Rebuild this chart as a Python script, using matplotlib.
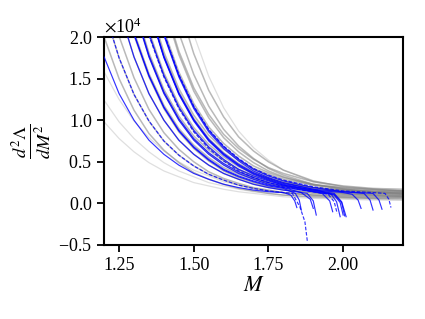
import numpy as np
import matplotlib.pyplot as plt

plt.rcParams['font.family'] = 'Liberation Serif'
plt.rcParams['mathtext.fontset'] = 'stix'

nan = np.nan

# mass grid (solar masses), values of d2Lambda/dM2 in units of 1e4
mass = [1.20, 1.25, 1.30, 1.35, 1.40, 1.45, 1.50, 1.55, 1.60, 1.65, 1.70, 1.75, 1.80, 1.90, 2.00, 2.10, 2.20]

# faint outliers of the gray family
gray_faint = [
    [0.98, 0.78, 0.62, 0.49, 0.39, 0.32, 0.25, 0.21, 0.17, 0.14, 0.12, 0.10, 0.08, 0.06, 0.05, 0.04, 0.04],
    [1.24, 0.98, 0.78, 0.62, 0.49, 0.39, 0.32, 0.25, 0.21, 0.17, 0.14, 0.12, 0.10, 0.07, 0.06, 0.05, 0.04],
    [1.58, 1.25, 0.99, 0.79, 0.63, 0.50, 0.40, 0.33, 0.26, 0.22, 0.18, 0.15, 0.13, 0.09, 0.07, 0.06, 0.05],
    [nan, nan, nan, nan, 3.63, 2.71, 2.03, 1.53, 1.15, 0.87, 0.67, 0.52, 0.40, 0.26, 0.18, 0.13, 0.11],
]

gray_curves = [
    [2.00, 1.50, 1.12, 0.84, 0.64, 0.49, 0.37, 0.29, 0.23, 0.18, 0.15, 0.12, 0.10, 0.08, 0.07, 0.06, 0.06],
    [2.33, 1.75, 1.31, 0.99, 0.75, 0.58, 0.45, 0.35, 0.28, 0.22, 0.18, 0.15, 0.13, 0.10, 0.09, 0.08, 0.08],
    [2.69, 2.01, 1.51, 1.13, 0.85, 0.65, 0.50, 0.38, 0.30, 0.24, 0.19, 0.16, 0.13, 0.10, 0.08, 0.07, 0.07],
    [3.14, 2.34, 1.76, 1.32, 1.00, 0.76, 0.59, 0.46, 0.36, 0.29, 0.23, 0.19, 0.16, 0.13, 0.11, 0.10, 0.09],
    [3.62, 2.70, 2.02, 1.52, 1.14, 0.86, 0.66, 0.51, 0.39, 0.31, 0.25, 0.20, 0.17, 0.12, 0.10, 0.09, 0.08],
    [3.66, 2.74, 2.06, 1.56, 1.18, 0.90, 0.70, 0.55, 0.43, 0.35, 0.29, 0.24, 0.21, 0.16, 0.14, 0.13, 0.12],
    [nan, 3.15, 2.35, 1.77, 1.33, 1.01, 0.77, 0.60, 0.47, 0.37, 0.30, 0.24, 0.20, 0.15, 0.12, 0.11, 0.10],
    [nan, 3.19, 2.39, 1.81, 1.37, 1.05, 0.81, 0.64, 0.51, 0.41, 0.34, 0.28, 0.24, 0.19, 0.16, 0.15, 0.14],
    [nan, 3.63, 2.71, 2.03, 1.53, 1.15, 0.87, 0.67, 0.52, 0.40, 0.32, 0.26, 0.21, 0.15, 0.12, 0.10, 0.09],
    [nan, 3.67, 2.75, 2.07, 1.57, 1.19, 0.91, 0.71, 0.56, 0.44, 0.36, 0.30, 0.25, 0.19, 0.16, 0.14, 0.13],
    [nan, nan, 3.16, 2.36, 1.78, 1.34, 1.02, 0.78, 0.61, 0.48, 0.38, 0.31, 0.25, 0.18, 0.15, 0.13, 0.11],
    [nan, nan, 3.20, 2.40, 1.82, 1.38, 1.06, 0.82, 0.65, 0.52, 0.42, 0.35, 0.29, 0.22, 0.19, 0.17, 0.15],
    [nan, nan, 3.64, 2.72, 2.04, 1.54, 1.16, 0.88, 0.68, 0.53, 0.41, 0.33, 0.27, 0.19, 0.14, 0.12, 0.11],
    [nan, nan, 3.68, 2.76, 2.08, 1.58, 1.20, 0.92, 0.72, 0.57, 0.45, 0.37, 0.31, 0.23, 0.18, 0.16, 0.15],
    [nan, nan, nan, 3.17, 2.37, 1.79, 1.35, 1.03, 0.79, 0.62, 0.49, 0.39, 0.32, 0.22, 0.17, 0.14, 0.13],
    [nan, nan, nan, 3.21, 2.41, 1.83, 1.39, 1.07, 0.83, 0.66, 0.53, 0.43, 0.36, 0.26, 0.21, 0.18, 0.17],
    [nan, nan, nan, 3.65, 2.73, 2.05, 1.55, 1.17, 0.89, 0.69, 0.54, 0.42, 0.34, 0.23, 0.17, 0.14, 0.12],
    [nan, nan, nan, nan, 3.18, 2.38, 1.80, 1.36, 1.04, 0.80, 0.63, 0.50, 0.40, 0.27, 0.20, 0.17, 0.15],
]

blue_curves = [
    [1.76, 1.32, 1.00, 0.76, 0.59, 0.46, 0.36, 0.29, 0.23, 0.19, 0.16, 0.14, 0.13, nan, nan, nan, nan],
    [2.33, 1.75, 1.31, 0.99, 0.75, 0.58, 0.45, 0.35, 0.28, 0.22, 0.18, 0.15, 0.13, nan, nan, nan, nan],
    [3.14, 2.34, 1.76, 1.32, 1.00, 0.76, 0.59, 0.46, 0.36, 0.29, 0.23, 0.19, 0.16, nan, nan, nan, nan],
    [3.63, 2.71, 2.03, 1.53, 1.15, 0.87, 0.67, 0.52, 0.40, 0.32, 0.26, 0.21, 0.18, nan, nan, nan, nan],
    [3.64, 2.72, 2.04, 1.54, 1.16, 0.88, 0.68, 0.53, 0.41, 0.33, 0.27, 0.22, 0.19, nan, nan, nan, nan],
    [nan, 3.14, 2.34, 1.76, 1.32, 1.00, 0.76, 0.59, 0.46, 0.36, 0.29, 0.23, 0.19, 0.14, nan, nan, nan],
    [nan, 3.16, 2.36, 1.78, 1.34, 1.02, 0.78, 0.61, 0.48, 0.38, 0.31, 0.25, 0.21, nan, nan, nan, nan],
    [nan, 3.64, 2.72, 2.04, 1.54, 1.16, 0.88, 0.68, 0.53, 0.41, 0.33, 0.27, 0.22, 0.16, nan, nan, nan],
    [nan, 3.62, 2.70, 2.02, 1.52, 1.14, 0.86, 0.66, 0.51, 0.39, 0.31, 0.25, 0.20, 0.14, nan, nan, nan],
    [nan, nan, 3.13, 2.33, 1.75, 1.31, 0.99, 0.75, 0.58, 0.45, 0.35, 0.28, 0.22, 0.15, nan, nan, nan],
    [nan, nan, 3.14, 2.34, 1.76, 1.32, 1.00, 0.76, 0.59, 0.46, 0.36, 0.29, 0.23, 0.16, 0.13, nan, nan],
    [nan, nan, 3.15, 2.35, 1.77, 1.33, 1.01, 0.77, 0.60, 0.47, 0.37, 0.30, 0.24, 0.17, 0.14, nan, nan],
    [nan, nan, 3.64, 2.72, 2.04, 1.54, 1.16, 0.88, 0.68, 0.53, 0.41, 0.33, 0.27, 0.19, 0.14, nan, nan],
    [nan, nan, 3.65, 2.73, 2.05, 1.55, 1.17, 0.89, 0.69, 0.54, 0.42, 0.34, 0.28, 0.20, 0.15, 0.13, nan],
    [nan, nan, 3.62, 2.70, 2.02, 1.52, 1.14, 0.86, 0.66, 0.51, 0.39, 0.31, 0.25, 0.17, nan, nan, nan],
]
# last points of each blue curve, where it turns over near its maximum mass
blue_tail_mass = [
    [1.825, 1.838, 1.845], [1.83, 1.855, 1.872, 1.88], [1.88, 1.90, 1.91],
    [1.84, 1.853, 1.86], [1.86, 1.89, 1.90], [1.96, 1.978, 1.99],
    [1.93, 1.955, 1.965], [1.97, 1.995, 2.01], [1.95, 1.97, 1.98],
    [1.97, 1.995, 2.005], [2.03, 2.05, 2.06], [2.07, 2.09, 2.10],
    [2.10, 2.12, 2.13], [2.14, 2.153, 2.16], [1.97, 1.99, 2.00],
]
blue_tail_vals = [
    [0.10, 0.03, -0.05], [0.12, -0.04, -0.22, -0.45], [0.12, 0.03, -0.14],
    [0.12, 0.04, -0.08], [0.13, 0.05, -0.06], [0.11, 0.02, -0.16],
    [0.12, 0.03, -0.10], [0.12, 0.02, -0.16], [0.11, 0.02, -0.12],
    [0.11, 0.01, -0.15], [0.11, 0.04, -0.06], [0.12, 0.04, -0.08],
    [0.12, 0.04, -0.07], [0.12, 0.05, -0.05], [0.10, 0.01, -0.14],
]
blue_dashed = [False, True, False, False, False, False, False, False, True,
               False, False, False, False, True, False]

fig = plt.figure(figsize=(4.25, 3.19), dpi=100)
ax = fig.add_axes([0.245, 0.232, 0.703, 0.652])

m = np.array(mass)
for vals in gray_faint:
    ax.plot(m, np.array(vals) * 1e4, color='gray', alpha=0.25, lw=0.9, zorder=2)
for vals in gray_curves:
    ax.plot(m, np.array(vals) * 1e4, color='gray', alpha=0.55, lw=1.1, zorder=2)

for vals, tm, tv, dashed in zip(blue_curves, blue_tail_mass, blue_tail_vals, blue_dashed):
    v = np.array(vals)
    ok = ~np.isnan(v)
    x = np.concatenate([m[ok], tm])
    y = np.concatenate([v[ok], tv]) * 1e4
    ax.plot(x, y, color='blue', lw=0.85, alpha=0.8,
            ls=(0, (3, 1.5)) if dashed else '-', zorder=3)

ax.set_xlim(1.2, 2.2)
ax.set_ylim(-0.5e4, 2.0e4)
ax.set_xticks([1.25, 1.50, 1.75, 2.00])
ax.set_yticks([-0.5e4, 0, 0.5e4, 1.0e4, 1.5e4, 2.0e4])
ax.ticklabel_format(axis='y', style='sci', scilimits=(0, 0), useMathText=True)
ax.yaxis.get_offset_text().set_fontsize(13)

ax.tick_params(labelsize=13, direction='out', length=5, width=1.3, top=False, right=False)
for s in ax.spines.values():
    s.set_linewidth(1.5)

ax.set_xlabel('$M$', fontsize=16, labelpad=2)
ax.set_ylabel(r'$\frac{d^2\Lambda}{dM^2}$', fontsize=19, labelpad=4)

fig.savefig('out.png', dpi=100)
